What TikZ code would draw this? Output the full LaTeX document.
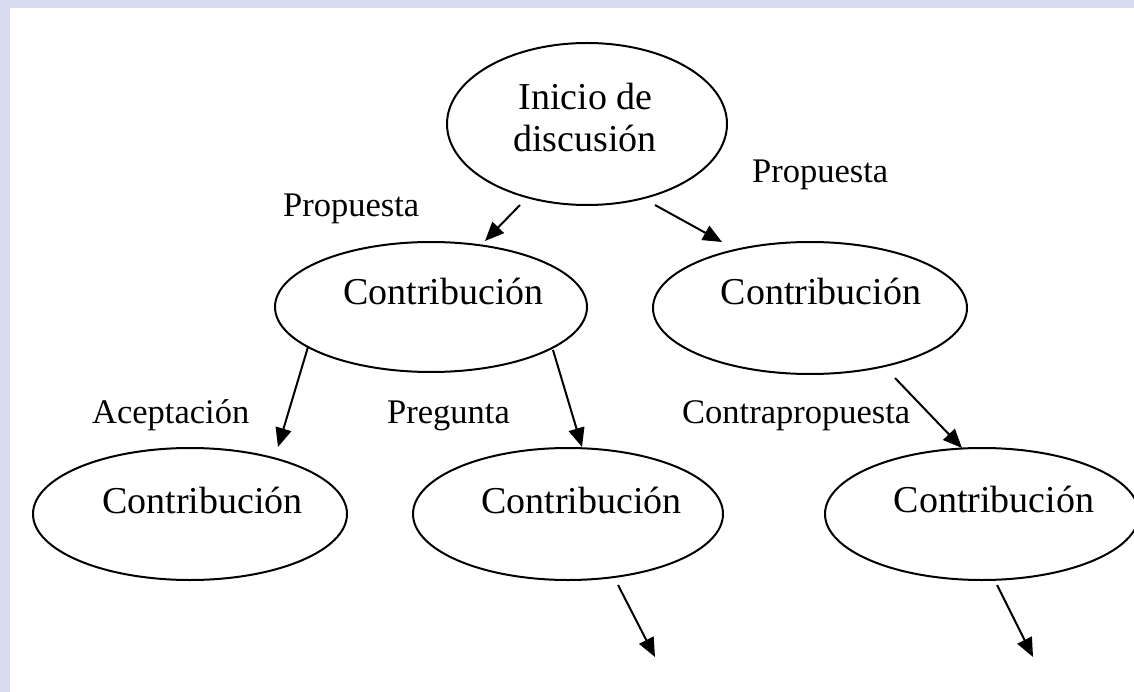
\documentclass[tikz,border=0pt]{standalone}
\usepackage{fontspec}
\setmainfont{Liberation Serif}
\usetikzlibrary{shapes.geometric,arrows.meta,calc}
\definecolor{frame}{RGB}{217,219,240}
\tikzset{
  bubble/.style={draw=black, ellipse, line width=2pt, inner sep=0pt,
    minimum width=#1},
  bubble/.default=314pt,
  bubbletext/.style={anchor=base, inner sep=0pt,
    font=\fontsize{38}{42}\selectfont},
  edgelabel/.style={anchor=base west, inner sep=0pt,
    font=\fontsize{34.5}{40}\selectfont},
  arr/.style={line width=2pt, -{Triangle[length=19pt,width=16pt]}}
}
\begin{document}
\begin{tikzpicture}[x=1pt,y=-1pt]
  % page frame
  \fill[frame] (0,0) rectangle (1134,692);
  \fill[white] (10,8) rectangle (1134,692);
  \useasboundingbox (0,0) rectangle (1134,692);

  % ellipses
  \node[bubble=280pt, minimum height=162pt] (top) at (587,124) {};
  \node[bubble=312pt, minimum height=130pt] (ml) at (431,307) {};
  \node[bubble=314pt, minimum height=132pt] (mr) at (810,308) {};
  \node[bubble=314pt, minimum height=132pt] (bl) at (190,514) {};
  \node[bubble=310pt, minimum height=132pt] (bm) at (568,514) {};
  \node[bubble=314pt, minimum height=132pt] (br) at (982,514) {};

  % texts inside the ellipses
  \node[bubbletext] (topa) at (585.5,110) {Inicio de};
  \node[bubbletext] (topb) at (585,152) {discusión};
  \node[bubbletext] (mlt) at (443.5,305) {Contribución};
  \node[bubbletext] (mrt) at (821,305) {Contribución};
  \node[bubbletext] (blt) at (202.5,513) {Contribución};
  \node[bubbletext] (bmt) at (581.5,513) {Contribución};
  \node[bubbletext] (brt) at (994,512) {Contribución};

  % edge labels
  \node[edgelabel] (l1) at (283,217) {Propuesta};
  \node[edgelabel] (l2) at (752,183) {Propuesta};
  \node[edgelabel] (l3) at (92,423) {Aceptación};
  \node[edgelabel] (l4) at (387,423) {Pregunta};
  \node[edgelabel] (l5) at (682,423) {Contrapropuesta};

  % open ends
  \coordinate (e1) at ($(bm.center)+(87,143)$);
  \coordinate (e2) at ($(br.center)+(51,143)$);

  % connectors
  \draw[arr] ($(top.center)+(-67,81)$) -- ($(ml.center)+(54,-66)$);
  \draw[arr] ($(top.center)+(68,81)$) -- ($(mr.center)+(-88,-66)$);
  \draw[arr] ($(ml.center)+(-123,40)$) -- ($(bl.center)+(88,-67)$);
  \draw[arr] ($(ml.center)+(122,43)$) -- ($(bm.center)+(14,-67)$);
  \draw[arr] ($(mr.center)+(85,70)$) -- ($(br.center)+(-20,-66)$);
  \draw[arr] ($(bm.center)+(50,71)$) -- (e1);
  \draw[arr] ($(br.center)+(15,71)$) -- (e2);
\end{tikzpicture}
\end{document}
